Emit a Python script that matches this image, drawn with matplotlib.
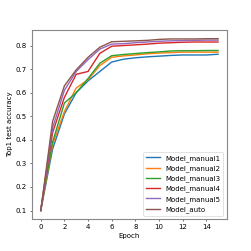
import matplotlib

matplotlib.use("Agg")
import matplotlib.pyplot as plt
import numpy as np

epochs = np.arange(16)

manual1 = [0.1, 0.36, 0.51, 0.60, 0.65, 0.69, 0.73, 0.742, 0.748, 0.752, 0.755, 0.758, 0.76, 0.76, 0.76, 0.763]
manual2 = [0.1, 0.38, 0.52, 0.62, 0.655, 0.715, 0.75, 0.756, 0.76, 0.765, 0.768, 0.77, 0.772, 0.772, 0.772, 0.772]
manual3 = [0.1, 0.39, 0.556, 0.60, 0.66, 0.725, 0.757, 0.762, 0.766, 0.77, 0.773, 0.777, 0.778, 0.778, 0.779, 0.779]
manual4 = [0.1, 0.43, 0.58, 0.678, 0.69, 0.767, 0.797, 0.80, 0.803, 0.806, 0.81, 0.812, 0.814, 0.815, 0.815, 0.815]
manual5 = [0.1, 0.45, 0.61, 0.69, 0.74, 0.785, 0.806, 0.808, 0.812, 0.815, 0.818, 0.82, 0.821, 0.822, 0.823, 0.823]
auto = [0.1, 0.478, 0.629, 0.697, 0.75, 0.793, 0.816, 0.818, 0.82, 0.822, 0.826, 0.828, 0.828, 0.828, 0.829, 0.829]

series = [
    ("Model_manual1", manual1),
    ("Model_manual2", manual2),
    ("Model_manual3", manual3),
    ("Model_manual4", manual4),
    ("Model_manual5", manual5),
    ("Model_auto", auto),
]

fig = plt.figure(figsize=(5, 5), dpi=50.2)
ax = fig.add_subplot(111)
fig.subplots_adjust(left=0.127, right=0.904, bottom=0.127, top=0.880)
for name, vals in series:
    ax.plot(epochs, vals, label=name, lw=2.0)
for s in ax.spines.values():
    s.set_edgecolor("#888888")
    s.set_linewidth(1.6)
ax.set_xticks(range(0, 15, 2))
ax.set_xlabel("Epoch")
ax.set_ylabel("Top1 test accuracy")
ax.legend(loc="lower right")
fig.savefig("out.png", dpi=50.2)
